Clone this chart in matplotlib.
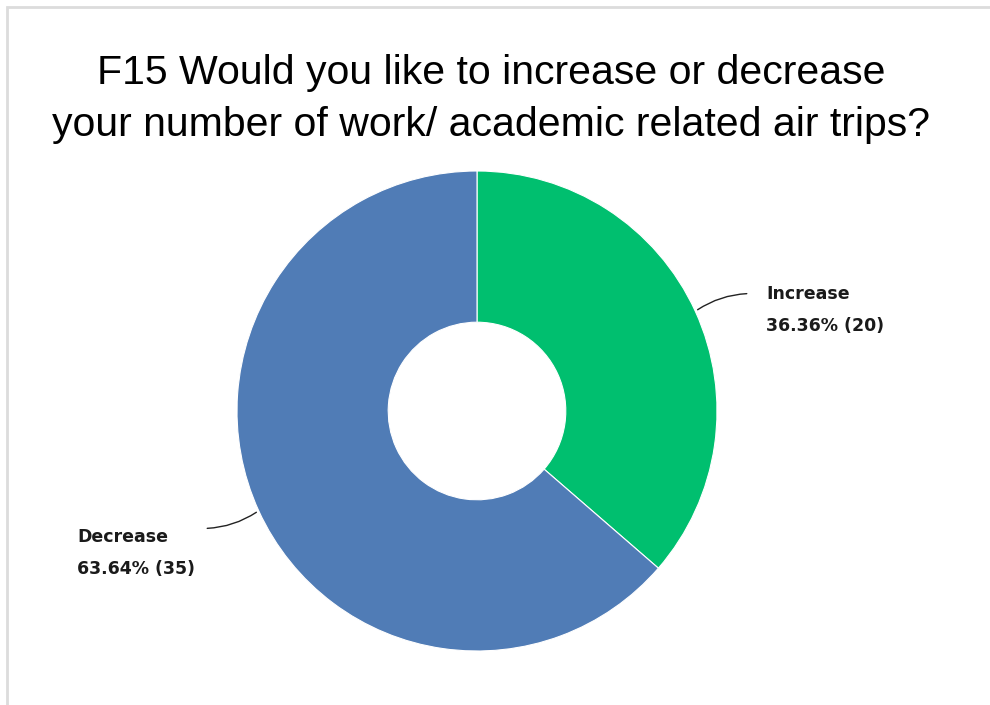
import numpy as np
import matplotlib.pyplot as plt
from matplotlib.patches import Rectangle

labels = ['Increase', 'Decrease']
counts = [20, 35]
colors = ['#00BF6F', '#507CB6']
title = 'F15 Would you like to increase or decrease\nyour number of work/ academic related air trips?'

W, H = 990, 705
fig = plt.figure(figsize=(W/100, H/100), dpi=100)
plt.rcParams['font.family'] = ['Liberation Sans', 'DejaVu Sans']

# light frame round the chart
fig.patches.append(Rectangle((7/W, -0.01), 1.0, 1 - 7/H + 0.01, transform=fig.transFigure,
                             fill=False, edgecolor='#dcdcdc', linewidth=2))

fig.text(0.496, 1 - 99/H, title, ha='center', va='center', fontsize=29.5, linespacing=1.5)

cx, cy, r = 477, 411, 240
ax = fig.add_axes([(cx - r)/W, (H - cy - r)/H, 2*r/W, 2*r/H])
wedges, _ = ax.pie(counts, colors=colors, startangle=90, counterclock=False, radius=1,
                   wedgeprops=dict(width=0.63, edgecolor='white', linewidth=0.8))
ax.set_aspect('equal')
ax.set_xlim(-1, 1)
ax.set_ylim(-1, 1)
ax.axis('off')

total = sum(counts)
offsets = [(0.565, 0.185), (-0.565, -0.185)]
for w, lab, n, off in zip(wedges, labels, counts, offsets):
    ang = np.deg2rad((w.theta1 + w.theta2) / 2)
    x0, y0 = np.cos(ang), np.sin(ang)
    x1, y1 = x0 + off[0]*0.4, y0 + off[1]*0.4
    ax.annotate('', xy=(x0, y0), xytext=(x1, y1),
                arrowprops=dict(arrowstyle='-', color='#222222', lw=1,
                                connectionstyle='arc3,rad=0.15'),
                annotation_clip=False)
    txt = f'{lab}\n{100*n/total:.2f}% ({n})'
    kw = dict(ha='left', va='center', fontsize=12.5, fontweight='bold',
              color='#1a1a1a', linespacing=2.0, family=['DejaVu Sans'])
    if x0 > 0:
        ax.text(x1 + 0.07, y1 - 0.068, txt, **kw)
    else:
        ax.text(-1.665, y1 - 0.104, txt, **kw)

fig.savefig('out.png', dpi=100)
